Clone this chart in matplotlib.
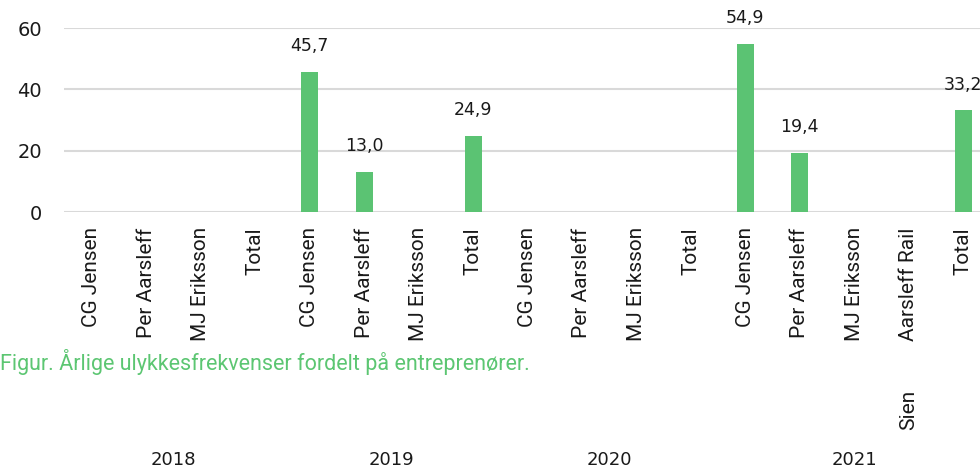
import numpy as np
import matplotlib
matplotlib.use("Agg")
import matplotlib.pyplot as plt
import matplotlib.transforms as mtransforms

# data
years = ["2018", "2019", "2020", "2021"]
firmaer_2018 = ["CG Jensen", "Per Aarsleff", "MJ Eriksson", "Total"]
firmaer_2019 = ["CG Jensen", "Per Aarsleff", "MJ Eriksson", "Total"]
firmaer_2020 = ["CG Jensen", "Per Aarsleff", "MJ Eriksson", "Total"]
firmaer_2021 = ["CG Jensen", "Per Aarsleff", "MJ Eriksson", "Aarsleff Rail", "Total"]
vaerdi_2018 = [None, None, None, None]
vaerdi_2019 = [45.7, 13.0, None, 24.9]
vaerdi_2020 = [None, None, None, None]
vaerdi_2021 = [54.9, 19.4, None, None, 33.2]

grupper = [firmaer_2018, firmaer_2019, firmaer_2020, firmaer_2021]
vaerdier = [vaerdi_2018, vaerdi_2019, vaerdi_2020, vaerdi_2021]

labels = sum(grupper, [])
values = [np.nan if v is None else v for v in sum(vaerdier, [])]
x = np.arange(len(labels))

GREEN = "#5bc373"
TXT = "#1a1a1a"
NUMFONT = "DejaVu Sans"

fig = plt.figure(figsize=(9.8, 4.69), dpi=100)
ax = fig.add_axes([64 / 980, 257 / 469, 916 / 980, 184 / 469])

ax.bar(x, values, width=0.31, color=GREEN, zorder=3)
ax.set_xlim(-0.514, 16.31)
ax.set_ylim(0, 60)
ax.set_yticks([0, 20, 40, 60])
ax.yaxis.grid(True, color="#d9d9d9", linewidth=1.5, zorder=0)
ax.set_axisbelow(True)
for s in ax.spines.values():
    s.set_visible(False)
ax.tick_params(axis="both", length=0)
ax.tick_params(axis="y", pad=16, labelsize=14, labelcolor=TXT)
ax.tick_params(axis="x", pad=11)
ax.set_xticks(x)
ax.set_xticklabels(labels, rotation=90, va="top", ha="center",
                   fontsize=15, family="Roboto", color=TXT)
for t in ax.get_yticklabels():
    t.set_family(NUMFONT)

# value labels with decimal comma
for xi, v in zip(x, values):
    if not np.isnan(v):
        ax.annotate(f"{v:.1f}".replace(".", ","), (xi, v), xytext=(0, 12),
                    textcoords="offset points", ha="center", va="bottom",
                    fontsize=12.5, family=NUMFONT, color=TXT, clip_on=False,
                    annotation_clip=False)

# year labels under each group
trans = mtransforms.blended_transform_factory(ax.transData, fig.transFigure)
start = 0
for yr, g in zip(years, grupper):
    centre = start + (len(g) - 1) / 2
    ax.text(centre, 1 - 460 / 469, yr, transform=trans, ha="center", va="center",
            fontsize=13, family=NUMFONT, color=TXT)
    start += len(g)

# leftover wrapped part of the long label
ax.text(labels.index("Aarsleff Rail", 12), 1 - 410 / 469, "Sien", transform=trans,
        rotation=90, ha="center", va="center", fontsize=15, family="Roboto",
        color=TXT)

fig.text(0.0, 1 - 362 / 469, "Figur. Årlige ulykkesfrekvenser fordelt på entreprenører.",
         ha="left", va="center", fontsize=15.5, family="Roboto", color="#5cc672")

fig.savefig("out.png", dpi=100)
